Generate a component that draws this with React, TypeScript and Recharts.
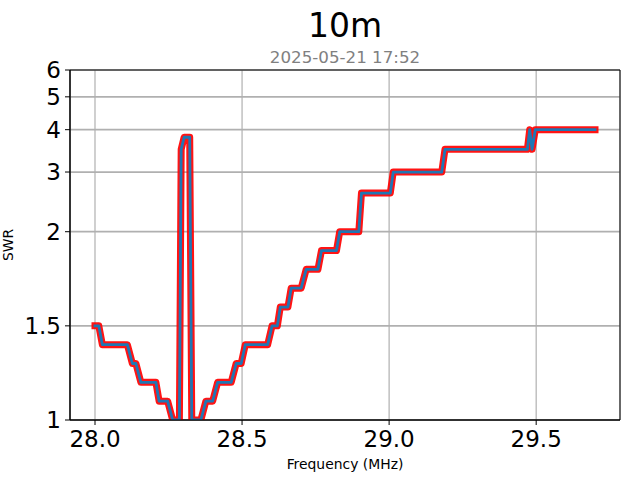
import React from 'react';
import { LineChart, Line, XAxis, YAxis, CartesianGrid, ReferenceArea } from 'recharts';

const freqMHz = [
  28.0, 28.013, 28.025, 28.11, 28.127, 28.139, 28.156, 28.207, 28.218, 28.247,
  28.264, 28.287, 28.293, 28.303, 28.322, 28.329, 28.36, 28.377, 28.4, 28.417,
  28.463, 28.48, 28.497, 28.511, 28.587, 28.602, 28.62, 28.63, 28.656, 28.667,
  28.701, 28.718, 28.758, 28.77, 28.821, 28.832, 28.897, 28.906, 29.004, 29.014,
  29.179, 29.19, 29.47, 29.478, 29.486, 29.497, 29.7,
];
const swrValues = [
  1.5, 1.5, 1.4, 1.4, 1.3, 1.3, 1.2, 1.2, 1.1, 1.1,
  1.0, 1.0, 3.5, 3.8, 3.8, 1.0, 1.0, 1.1, 1.1, 1.2,
  1.2, 1.3, 1.3, 1.4, 1.4, 1.5, 1.5, 1.6, 1.6, 1.7,
  1.7, 1.8, 1.8, 1.9, 1.9, 2.0, 2.0, 2.6, 2.6, 3.0,
  3.0, 3.5, 3.5, 4.0, 3.5, 4.0, 4.0,
];
const swrTicks = [1, 1.5, 2, 3, 4, 5, 6];
const freqTicks = [28.0, 28.5, 29.0, 29.5];
const titleText = '10m';
const subtitleText = '2025-05-21 17:52';
const xLabel = 'Frequency (MHz)';
const yLabel = 'SWR';

// symmetric-log scale transform (linthresh 2, linscale 1, base 10)
const LIN_THRESH = 2;
const LIN_SCALE = 1 / (1 - 1 / 10);
const symlog = (v: number) =>
  v <= LIN_THRESH ? v * LIN_SCALE : LIN_THRESH * (LIN_SCALE + Math.log10(v / LIN_THRESH));
const invSymlog = (t: number) =>
  t <= LIN_THRESH * LIN_SCALE ? t / LIN_SCALE : LIN_THRESH * Math.pow(10, t / LIN_THRESH - LIN_SCALE);
const fmtSwr = (t: number) => String(Math.round(invSymlog(t) * 100) / 100);

const data = freqMHz.map((f, i) => ({ freq: f, t: symlog(swrValues[i]) }));

const xDomain: [number, number] = [27.915, 29.785];
const yDomain: [number, number] = [symlog(1), symlog(6)];

export default function App() {
  return (
    <div
      style={{
        position: 'absolute',
        left: 0,
        top: 0,
        width: 640,
        height: 480,
        background: '#fff',
        fontFamily: '"DejaVu Sans", sans-serif',
      }}
    >
      <LineChart width={640} height={480} data={data} margin={{ top: 70, right: 20, bottom: 20, left: 10 }}>
        <CartesianGrid vertical={false} stroke="#b0b0b0" strokeWidth={1.7} />
        <CartesianGrid horizontal={false} stroke="#b0b0b0" strokeWidth={1.2} />
        <XAxis
          dataKey="freq"
          type="number"
          domain={xDomain}
          ticks={freqTicks}
          allowDataOverflow
          interval={0}
          tickFormatter={(v: number) => v.toFixed(1)}
          tick={{ fontSize: 23, fill: '#000' }}
          axisLine={{ stroke: '#000', strokeWidth: 1 }}
          tickLine={{ stroke: '#000', strokeWidth: 1 }}
          tickSize={5}
          tickMargin={6}
          height={40}
        />
        <YAxis
          type="number"
          domain={yDomain}
          ticks={swrTicks.map(symlog)}
          allowDataOverflow
          interval={0}
          tickFormatter={fmtSwr}
          tick={{ fontSize: 23, fill: '#000' }}
          axisLine={{ stroke: '#000', strokeWidth: 1 }}
          tickLine={{ stroke: '#000', strokeWidth: 1 }}
          tickSize={5}
          tickMargin={4}
          width={60}
        />
        <Line
          dataKey="t"
          type="linear"
          stroke="#ff0000"
          strokeOpacity={0.92}
          strokeWidth={7}
          strokeLinecap="square"
          strokeLinejoin="round"
          dot={false}
          activeDot={false}
          isAnimationActive={false}
        />
        <Line
          dataKey="t"
          type="linear"
          stroke="#1f77b4"
          strokeWidth={2.8}
          strokeLinecap="square"
          strokeLinejoin="round"
          dot={false}
          activeDot={false}
          isAnimationActive={false}
        />
        <ReferenceArea
          x1={xDomain[0]}
          x2={xDomain[1]}
          y1={yDomain[0]}
          y2={yDomain[1]}
          fill="none"
          fillOpacity={0}
          stroke="#000"
          strokeWidth={1}
          ifOverflow="visible"
        />
      </LineChart>
      <svg
        width={640}
        height={480}
        style={{ position: 'absolute', left: 0, top: 0, pointerEvents: 'none' }}
      >
        <text x={345} y={37} textAnchor="middle" fontSize={33} fill="#000" fontFamily='"DejaVu Sans", sans-serif'>
          {titleText}
        </text>
        <text x={345} y={63} textAnchor="middle" fontSize={16.7} fill="#808080" fontFamily='"DejaVu Sans", sans-serif'>
          {subtitleText}
        </text>
        <text x={345} y={469} textAnchor="middle" fontSize={13.9} fill="#000" fontFamily='"DejaVu Sans", sans-serif'>
          {xLabel}
        </text>
        <text
          x={0}
          y={0}
          transform="translate(12.7,245) rotate(-90)"
          textAnchor="middle"
          fontSize={13.9}
          fill="#000"
          fontFamily='"DejaVu Sans", sans-serif'
        >
          {yLabel}
        </text>
      </svg>
    </div>
  );
}
